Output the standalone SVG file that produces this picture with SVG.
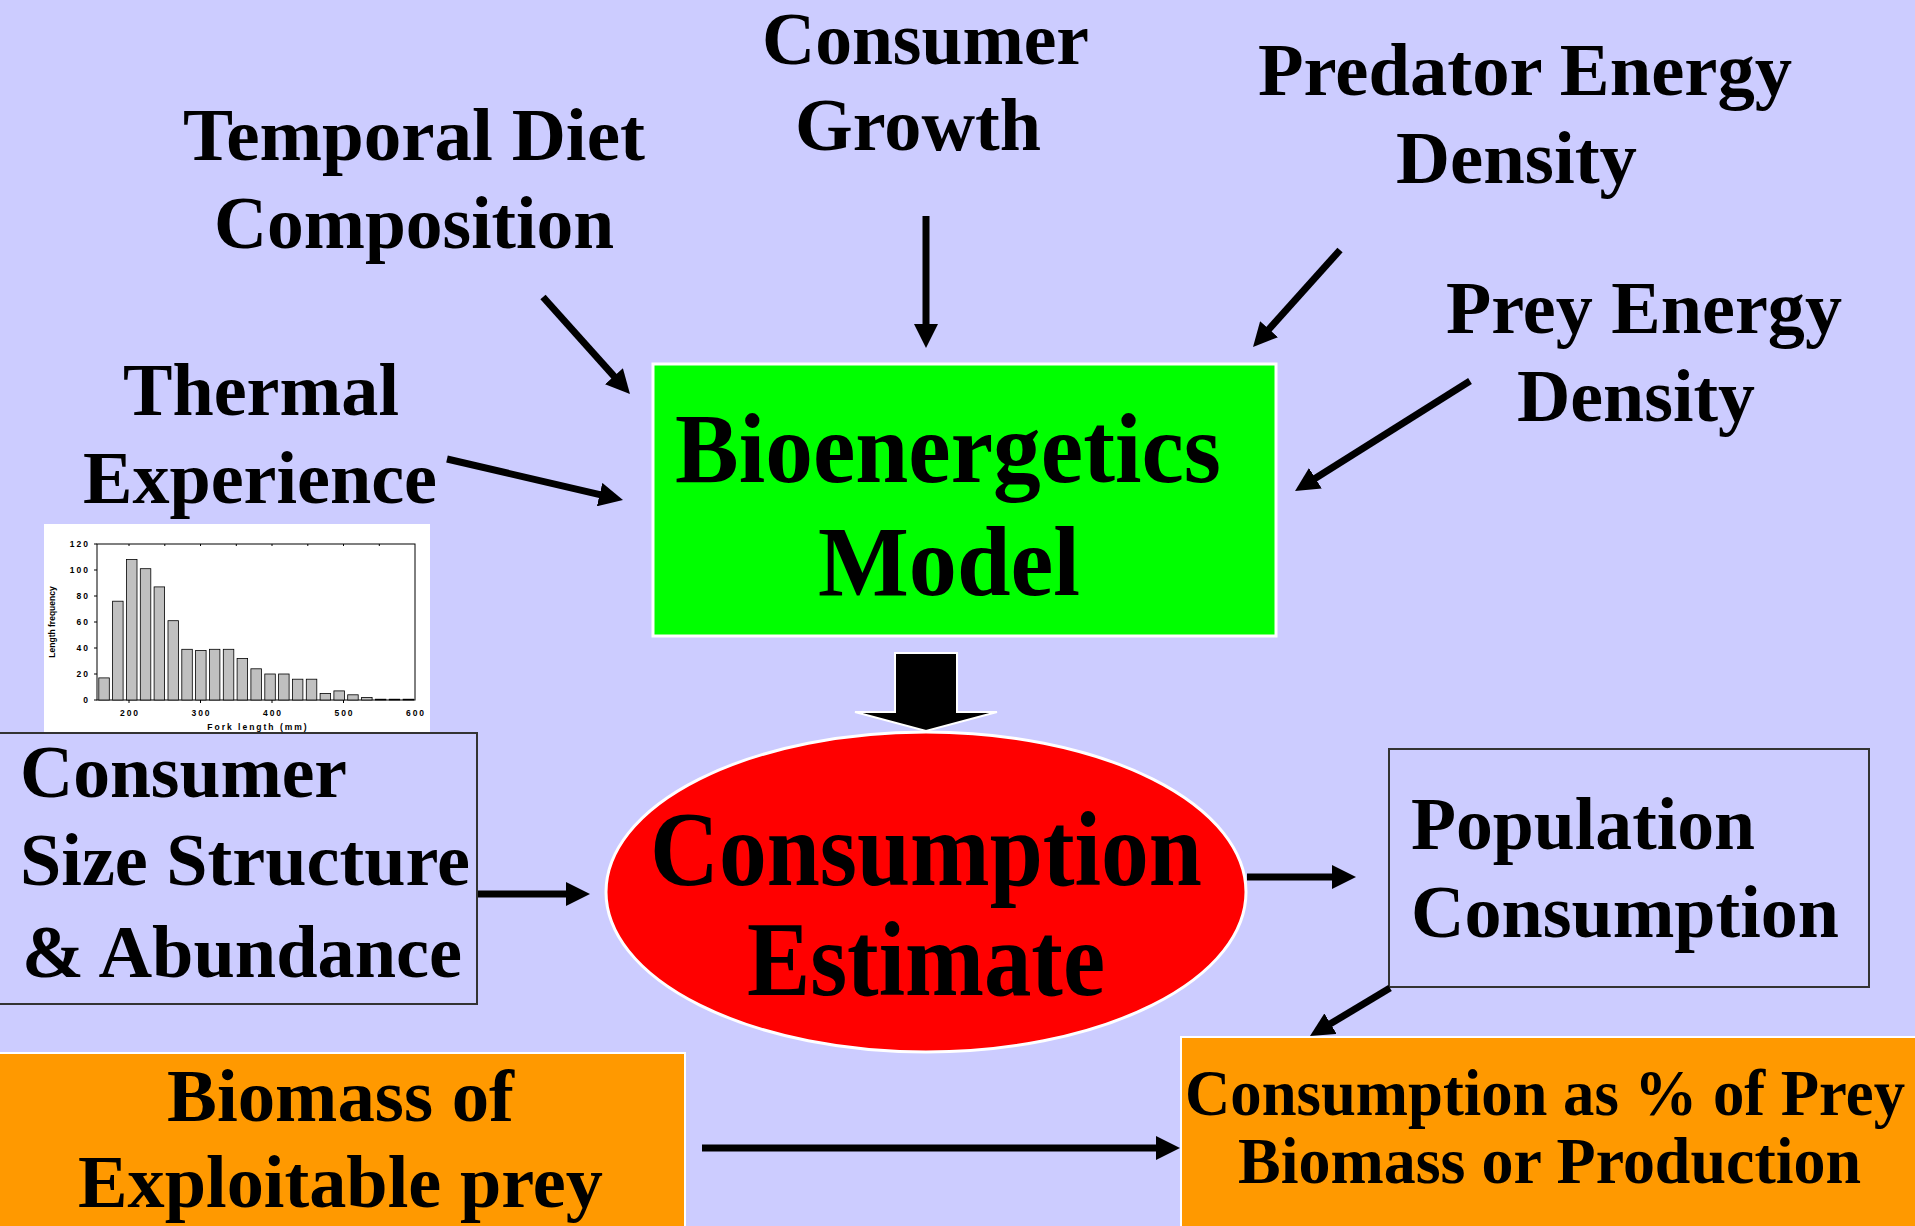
<svg xmlns="http://www.w3.org/2000/svg" width="1915" height="1226" viewBox="0 0 1915 1226">
  <defs>
    <style>
      .lbl { font-family: "Liberation Serif", "Times New Roman", serif; font-weight: bold; fill: #000; }
      .f75 { font-size: 75px; }
      .f65 { font-size: 66px; }
      .f100 { font-size: 100px; }
      .f106 { font-size: 106px; }
      .conn { stroke: #000; stroke-width: 7; fill: none; marker-end: url(#head); }
      .box { fill: #CCCCFF; stroke: #333; stroke-width: 2; }
      .orange { fill: #FF9900; stroke: #FFFFFF; stroke-width: 2; }
      .hx { font-family: "Liberation Sans", Arial, sans-serif; font-weight: bold; font-size: 8.5px; fill: #000; }
      .bar { fill: #C0C0C0; stroke: #000; stroke-width: 0.8; }
    </style>
    <marker id="head" markerUnits="userSpaceOnUse" viewBox="0 0 24 24" markerWidth="24" markerHeight="24" refX="8" refY="12" orient="auto">
      <path d="M0,0 L24,12 L0,24 z" fill="#000"/>
    </marker>
  </defs>

  <!-- slide background -->
  <rect x="0" y="0" width="1915" height="1226" fill="#CCCCFF"/>

  <!-- input labels -->
  <g id="temporal-diet">
    <text class="lbl f75" x="183" y="160" textLength="462" lengthAdjust="spacingAndGlyphs">Temporal Diet</text>
    <text class="lbl f75" x="214" y="248" textLength="400" lengthAdjust="spacingAndGlyphs">Composition</text>
  </g>
  <g id="consumer-growth">
    <text class="lbl f75" x="762" y="64" textLength="327" lengthAdjust="spacingAndGlyphs">Consumer</text>
    <text class="lbl f75" x="795" y="150" textLength="246" lengthAdjust="spacingAndGlyphs">Growth</text>
  </g>
  <g id="predator-energy-density">
    <text class="lbl f75" x="1258" y="95" textLength="534" lengthAdjust="spacingAndGlyphs">Predator Energy</text>
    <text class="lbl f75" x="1396" y="183" textLength="241" lengthAdjust="spacingAndGlyphs">Density</text>
  </g>
  <g id="prey-energy-density">
    <text class="lbl f75" x="1446" y="333" textLength="396" lengthAdjust="spacingAndGlyphs">Prey Energy</text>
    <text class="lbl f75" x="1517" y="421" textLength="238" lengthAdjust="spacingAndGlyphs">Density</text>
  </g>
  <g id="thermal-experience">
    <text class="lbl f75" x="123" y="415" textLength="276" lengthAdjust="spacingAndGlyphs">Thermal</text>
    <text class="lbl f75" x="83" y="503" textLength="354" lengthAdjust="spacingAndGlyphs">Experience</text>
  </g>

  <!-- central model -->
  <g id="bioenergetics-model">
    <rect x="653" y="364" width="623" height="272" fill="#00FF00" stroke="#FFFFFF" stroke-width="3"/>
    <text class="lbl f100" x="675" y="482" textLength="546" lengthAdjust="spacingAndGlyphs">Bioenergetics</text>
    <text class="lbl f100" x="818" y="595" textLength="262" lengthAdjust="spacingAndGlyphs">Model</text>
  </g>

  <!-- block arrow from model to estimate -->
  <g id="model-to-estimate">
    <polygon points="895,653 957,653 957,712 997,712 926,731 855,712 895,712" fill="#000" stroke="#FFFFFF" stroke-width="2"/>
  </g>

  <g id="consumption-estimate">
    <ellipse cx="926" cy="892" rx="320" ry="160" fill="#FF0000" stroke="#FFFFFF" stroke-width="3"/>
    <text class="lbl f106" x="650" y="885" textLength="552" lengthAdjust="spacingAndGlyphs">Consumption</text>
    <text class="lbl f106" x="747" y="995" textLength="358" lengthAdjust="spacingAndGlyphs">Estimate</text>
  </g>

  <!-- length-frequency histogram -->
  <g id="size-histogram">
    <rect x="44" y="524" width="386" height="209" fill="#FFFFFF"/>
    <rect x="97" y="544" width="318" height="156" fill="none" stroke="#000" stroke-width="1"/>
    <g stroke="#000" stroke-width="1">
      <line x1="94" y1="700" x2="97" y2="700"/>
      <line x1="94" y1="674" x2="97" y2="674"/>
      <line x1="94" y1="648" x2="97" y2="648"/>
      <line x1="94" y1="622" x2="97" y2="622"/>
      <line x1="94" y1="596" x2="97" y2="596"/>
      <line x1="94" y1="570" x2="97" y2="570"/>
      <line x1="94" y1="544" x2="97" y2="544"/>
      <line x1="129" y1="700" x2="129" y2="703"/>
      <line x1="200.5" y1="700" x2="200.5" y2="703"/>
      <line x1="272" y1="700" x2="272" y2="703"/>
      <line x1="343.5" y1="700" x2="343.5" y2="703"/>
      <line x1="129" y1="544" x2="129" y2="546"/>
      <line x1="164.8" y1="544" x2="164.8" y2="546"/>
      <line x1="200.5" y1="544" x2="200.5" y2="546"/>
      <line x1="236.3" y1="544" x2="236.3" y2="546"/>
      <line x1="272" y1="544" x2="272" y2="546"/>
      <line x1="307.8" y1="544" x2="307.8" y2="546"/>
      <line x1="343.5" y1="544" x2="343.5" y2="546"/>
      <line x1="379.3" y1="544" x2="379.3" y2="546"/>
    </g>
    <rect class="bar" x="98.8" y="677.9" width="10.5" height="22.1"/>
    <rect class="bar" x="112.6" y="601.2" width="10.5" height="98.8"/>
    <rect class="bar" x="126.5" y="559.6" width="10.5" height="140.4"/>
    <rect class="bar" x="140.3" y="568.7" width="10.5" height="131.3"/>
    <rect class="bar" x="154.1" y="586.9" width="10.5" height="113.1"/>
    <rect class="bar" x="168.0" y="620.7" width="10.5" height="79.3"/>
    <rect class="bar" x="181.8" y="649.3" width="10.5" height="50.7"/>
    <rect class="bar" x="195.6" y="650.6" width="10.5" height="49.4"/>
    <rect class="bar" x="209.4" y="649.3" width="10.5" height="50.7"/>
    <rect class="bar" x="223.3" y="649.3" width="10.5" height="50.7"/>
    <rect class="bar" x="237.1" y="658.4" width="10.5" height="41.6"/>
    <rect class="bar" x="250.9" y="668.8" width="10.5" height="31.2"/>
    <rect class="bar" x="264.8" y="674.0" width="10.5" height="26.0"/>
    <rect class="bar" x="278.6" y="674.0" width="10.5" height="26.0"/>
    <rect class="bar" x="292.4" y="679.2" width="10.5" height="20.8"/>
    <rect class="bar" x="306.3" y="679.2" width="10.5" height="20.8"/>
    <rect class="bar" x="320.1" y="693.5" width="10.5" height="6.5"/>
    <rect class="bar" x="333.9" y="690.9" width="10.5" height="9.1"/>
    <rect class="bar" x="347.7" y="694.8" width="10.5" height="5.2"/>
    <rect class="bar" x="361.6" y="697.4" width="10.5" height="2.6"/>
    <rect class="bar" x="375.4" y="699.2" width="10.5" height="0.8"/>
    <rect class="bar" x="389.2" y="699.2" width="10.5" height="0.8"/>
    <rect class="bar" x="403.1" y="699.2" width="10.5" height="0.8"/>
    <g class="hx" text-anchor="end" letter-spacing="2">
      <text x="90" y="703">0</text>
      <text x="90" y="677">20</text>
      <text x="90" y="651">40</text>
      <text x="90" y="625">60</text>
      <text x="90" y="599">80</text>
      <text x="90" y="573">100</text>
      <text x="90" y="547">120</text>
    </g>
    <g class="hx" text-anchor="middle" letter-spacing="2">
      <text x="130" y="716">200</text>
      <text x="201.5" y="716">300</text>
      <text x="273" y="716">400</text>
      <text x="344.5" y="716">500</text>
      <text x="416" y="716">600</text>
      <text x="258" y="730">Fork length (mm)</text>
    </g>
    <text class="hx" x="0" y="0" text-anchor="middle" font-size="9" transform="translate(55,622) rotate(-90)">Length frequency</text>
  </g>

  <g id="consumer-size-structure">
    <rect class="box" x="-2" y="733" width="479" height="271"/>
    <text class="lbl f75" x="20" y="797" textLength="327" lengthAdjust="spacingAndGlyphs">Consumer</text>
    <text class="lbl f75" x="20" y="885" textLength="450" lengthAdjust="spacingAndGlyphs">Size Structure</text>
    <text class="lbl f75" x="22" y="977" textLength="440" lengthAdjust="spacingAndGlyphs">&amp; Abundance</text>
  </g>

  <g id="population-consumption">
    <rect class="box" x="1389" y="749" width="480" height="238"/>
    <text class="lbl f75" x="1411" y="849" textLength="344" lengthAdjust="spacingAndGlyphs">Population</text>
    <text class="lbl f75" x="1411" y="937" textLength="428" lengthAdjust="spacingAndGlyphs">Consumption</text>
  </g>

  <g id="prey-biomass">
    <rect class="orange" x="-2" y="1053" width="687" height="180"/>
    <text class="lbl f75" x="167" y="1121" textLength="347" lengthAdjust="spacingAndGlyphs">Biomass of</text>
    <text class="lbl f75" x="78" y="1207" textLength="525" lengthAdjust="spacingAndGlyphs">Exploitable prey</text>
  </g>

  <g id="consumption-percent">
    <rect class="orange" x="1181" y="1037" width="740" height="196"/>
    <text class="lbl f65" x="1185" y="1115" textLength="720" lengthAdjust="spacingAndGlyphs">Consumption as % of Prey</text>
    <text class="lbl f65" x="1238" y="1183" textLength="623" lengthAdjust="spacingAndGlyphs">Biomass or Production</text>
  </g>

  <!-- connectors -->
  <g id="connectors">
    <line class="conn" x1="543" y1="297" x2="619.3" y2="382.1"/>
    <line class="conn" x1="926" y1="216" x2="926" y2="332"/>
    <line class="conn" x1="1340" y1="250" x2="1263.7" y2="335.1"/>
    <line class="conn" x1="1470" y1="381" x2="1308.6" y2="482.5"/>
    <line class="conn" x1="447" y1="459" x2="607.4" y2="496.4"/>
    <line class="conn" x1="478" y1="894" x2="574" y2="894"/>
    <line class="conn" x1="1247" y1="877" x2="1340" y2="877"/>
    <line class="conn" x1="1390" y1="988" x2="1323.7" y2="1027.8"/>
    <line class="conn" x1="702" y1="1148" x2="1164" y2="1148"/>
  </g>
</svg>
